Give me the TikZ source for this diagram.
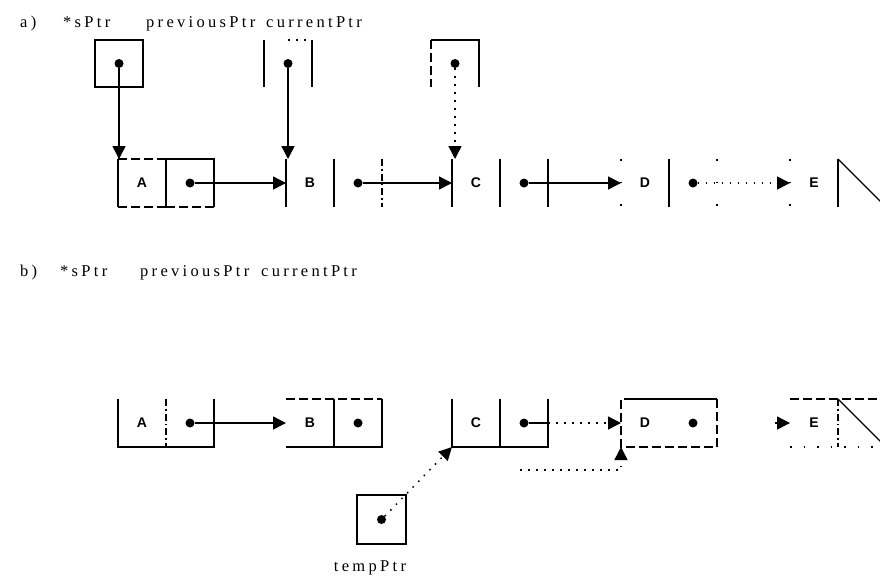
\documentclass[tikz,border=0pt]{standalone}
\usepackage{fontspec}
\setmainfont{Liberation Serif}
\newfontfamily\lblfont[LetterSpace=20]{Liberation Serif}
\newfontfamily\cellfont{Liberation Sans}
\usetikzlibrary{arrows.meta}
\begin{document}
\begin{tikzpicture}[x=1pt,y=-1pt,
  ln/.style={line width=1.5pt},
  ptr/.style={line width=1.5pt,-{Triangle[length=13pt,width=13pt]}},
  mydash/.style={line width=1.5pt,dash pattern=on 9pt off 4pt},
  dashdot/.style={line width=1.5pt,dash pattern=on 7pt off 3pt on 1.5pt off 3pt},
  dotline/.style={line width=1.5pt,dash pattern=on 1.5pt off 6.5pt},
  sparse/.style={line width=1.5pt,dash pattern=on 1.5pt off 21pt},
  cell/.style={minimum width=48pt,minimum height=48pt,inner sep=0pt,outer sep=0pt,
    font=\cellfont\bfseries\fontsize{14}{14}\selectfont},
  pbox/.style={minimum width=48pt,minimum height=47pt,inner sep=0pt,outer sep=0pt},
  dot/.style={circle,fill,inner sep=0pt,minimum size=9pt},
  lbl/.style={anchor=base west,inner sep=0pt,font=\lblfont\fontsize{16.5}{16.5}\selectfont},
]
\useasboundingbox (0,0) rectangle (880,576);
\fill[white] (0,0) rectangle (880,576);

% ---------------- a) ----------------
\node[lbl] (la)  at (20,27)  {a)};
\node[lbl] (las) at (63,27)  {*sPtr};
\node[lbl] (lap) at (146,27) {previousPtr};
\node[lbl] (lac) at (266,27) {currentPtr};

% pointer boxes
\node[pbox,draw,ln] (asP) at (119,63.5) {};
\node[pbox] (apP) at (288,63.5) {};
\node[pbox] (acP) at (455,63.5) {};
\draw[ln] (apP.north west) -- (apP.south west);
\draw[ln] (apP.north east) -- (apP.south east);
\draw[dotline] (apP.north) -- (apP.north east);
\draw[ln] (acP.south east) -- (acP.north east) -- (acP.north west);
\draw[mydash] (acP.north west) -- (acP.south west);
\node[dot] (asd) at (asP) {};
\node[dot] (apd) at (apP) {};
\node[dot] (acd) at (acP) {};

% list nodes
\node[cell] (aA)  at (142,183) {A};
\node[cell] (aAp) at (190,183) {};
\node[cell] (aB)  at (310,183) {B};
\node[cell] (aBp) at (358,183) {};
\node[cell] (aC)  at (476,183) {C};
\node[cell] (aCp) at (524,183) {};
\node[cell] (aD)  at (645,183) {D};
\node[cell] (aDp) at (693,183) {};
\node[cell] (aE)  at (814,183) {E};
\node[cell] (aEp) at (862,183) {};
\foreach \n in {aA,aB,aC,aD} {\node[dot] (\n d) at (\n p) {};}

% A
\draw[ln] (aA.north west) -- (aA.south west);
\draw[mydash] (aA.north west) -- (aA.north east);
\draw[mydash] (aA.south west) -- (aA.south east);
\draw[ln] (aAp.south west) -- (aAp.north west) -- (aAp.north east) -- (aAp.south east);
\draw[mydash] (aAp.south west) -- (aAp.south east);
% B
\draw[ln] (aB.north west) -- (aB.south west);
\draw[ln] (aBp.north west) -- (aBp.south west);
\draw[dashdot] (aBp.north east) -- (aBp.south east);
% C
\draw[ln] (aC.north west) -- (aC.south west);
\draw[ln] (aCp.north west) -- (aCp.south west);
\draw[ln] (aCp.north east) -- (aCp.south east);
% D
\draw[sparse] (aD.north west) -- (aD.south west);
\draw[ln] (aDp.north west) -- (aDp.south west);
\draw[sparse] (aDp.north east) -- (aDp.south east);
% E
\draw[sparse] (aE.north west) -- (aE.south west);
\draw[ln] (aEp.north west) -- (aEp.south west);
\begin{scope}
  \clip (0,0) rectangle (880,576);
  \draw[line width=1.2pt] (aEp.north west) -- (aEp.south east);
\end{scope}

% connectors a)
\draw[ptr] (asd) -- (asd |- aA.north);
\draw[ptr] (apd) -- (apd |- aB.north);
\draw[ptr,dotline] (acd) -- (acd |- aC.north);
\draw[ptr] (aAd) -- (aB.west);
\draw[ptr] (aBd) -- (aC.west);
\draw[ptr] (aCd) -- (aD.west);
\draw[ptr,dotline] (aDd) -- (aE.west);

% ---------------- b) ----------------
\node[lbl] (lb)  at (20,276)  {b)};
\node[lbl] (lbs) at (60,276)  {*sPtr};
\node[lbl] (lbp) at (140,276) {previousPtr};
\node[lbl] (lbc) at (261,276) {currentPtr};

\node[cell] (bA)  at (142,423) {A};
\node[cell] (bAp) at (190,423) {};
\node[cell] (bB)  at (310,423) {B};
\node[cell] (bBp) at (358,423) {};
\node[cell] (bC)  at (476,423) {C};
\node[cell] (bCp) at (524,423) {};
\node[cell] (bD)  at (645,423) {D};
\node[cell] (bDp) at (693,423) {};
\node[cell] (bE)  at (814,423) {E};
\node[cell] (bEp) at (862,423) {};
\foreach \n in {bA,bB,bC,bD} {\node[dot] (\n d) at (\n p) {};}

% A
\draw[ln] (bA.north west) -- (bA.south west) -- (bAp.south east) -- (bAp.north east);
\draw[dashdot] (bAp.north west) -- (bAp.south west);
% B
\draw[mydash] (bB.north west) -- (bBp.north east);
\draw[ln] (bBp.north east) -- (bBp.south east) -- (bB.south west);
\draw[ln] (bBp.north west) -- (bBp.south west);
% C
\draw[ln] (bC.north west) -- (bC.south west) -- (bCp.south east) -- (bCp.north east);
\draw[ln] (bCp.north west) -- (bCp.south west);
% D
\draw[ln] ([xshift=12pt]bD.north west) -- (bDp.north east);
\draw[mydash] (bDp.north east) -- (bDp.south east) -- (bD.south west) -- (bD.north west) -- ([xshift=12pt]bD.north west);
% E
\draw[mydash] (bE.north west) -- (880,399);
\draw[dashdot] (bEp.north west) -- (bEp.south west);
\draw[dotline,dash pattern=on 1.5pt off 12pt] (bE.south west) -- (880,447);
\begin{scope}
  \clip (0,0) rectangle (880,576);
  \draw[line width=1.2pt] (bEp.north west) -- (bEp.south east);
\end{scope}

% tempPtr
\node[pbox,draw,ln,minimum height=49pt,minimum width=49pt] (tP) at (381.5,519.5) {};
\node[dot] (td) at (tP) {};
\node[lbl,anchor=base] (ltp) at (370,571) {tempPtr};

% connectors b)
\draw[ptr] (bAd) -- (bB.west);
\draw[ln] (bCd) -- (bCp.east);
\draw[ptr,dotline] (bCp.east) -- (bD.west);
\coordinate (etail) at (775,423);
\draw[ptr] (etail) -- (bE.west);
\draw[ptr,dotline] (td) -- (bC.south west);
\coordinate (dstart) at (520,470);
\draw[ptr,dotline] (dstart) -| (bD.south west);
\end{tikzpicture}
\end{document}
